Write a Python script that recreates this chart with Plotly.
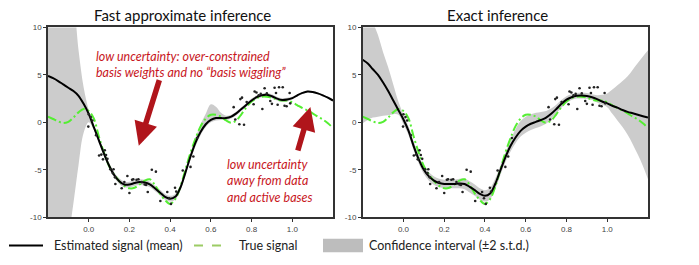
import plotly.graph_objects as go

# ---------------- data ----------------
x_grid = [-0.2, -0.175, -0.15, -0.125, -0.1, -0.075, -0.05, -0.025, 0.0, 0.025,
          0.05, 0.075, 0.1, 0.125, 0.15, 0.175, 0.2, 0.225, 0.25, 0.275,
          0.3, 0.325, 0.35, 0.375, 0.4, 0.425, 0.45, 0.475, 0.5, 0.525,
          0.55, 0.575, 0.6, 0.625, 0.65, 0.675, 0.7, 0.725, 0.75, 0.775,
          0.8, 0.825, 0.85, 0.875, 0.9, 0.925, 0.95, 0.975, 1.0, 1.025,
          1.05, 1.075, 1.1, 1.125, 1.15, 1.175, 1.2]

true_signal = [0.6, 0.35, 0.1, -0.08, 0.05, 0.5, 1.05, 1.4, 1.2, 0.4,
               -1.5, -3.2, -4.6, -5.5, -6.2, -6.7, -6.95, -6.9, -6.55, -6.15,
               -6.0, -6.6, -7.5, -8.2, -8.6, -8.1, -6.8, -5.0, -3.2, -1.7,
               -0.4, 0.4, 0.8, 0.8, 0.6, 0.2, -0.05, 0.2, 0.85, 1.6,
               2.2, 2.55, 2.7, 2.7, 2.6, 2.4, 2.3, 2.3, 2.1, 1.8,
               1.5, 1.25, 0.95, 0.6, 0.3, -0.1, -0.6]

fast_mean = [4.9, 4.65, 4.35, 4.0, 3.65, 3.3, 2.8, 1.95, 0.9, -0.5,
             -1.9, -3.3, -4.55, -5.55, -6.2, -6.55, -6.55, -6.4, -6.3, -6.35,
             -6.55, -6.95, -7.4, -7.85, -8.05, -7.85, -6.9, -5.3, -3.6, -2.1,
             -1.0, -0.2, 0.25, 0.45, 0.45, 0.45, 0.6, 0.95, 1.4, 1.85,
             2.3, 2.65, 2.85, 2.9, 2.75, 2.5, 2.35, 2.4, 2.55, 2.85,
             3.1, 3.25, 3.2, 3.05, 2.85, 2.6, 2.3]

fast_upper = [14, 14, 14, 14, 14, 12.5, 7.6, 3.7, 1.3, -0.2,
              -1.6, -3.0, -4.25, -5.25, -5.9, -6.25, -6.25, -6.1, -6.0, -6.05,
              -6.25, -6.65, -7.1, -7.55, -7.75, -7.55, -6.6, -5.0, -3.25, -1.6,
              -0.2, 0.9, 1.9, 1.65, 1.0, 0.7, 0.8, 1.15, 1.6, 2.05,
              2.5, 2.85, 3.05, 3.1, 2.95, 2.7, 2.55, 2.6, 2.7, 2.95,
              3.2, 3.35, 3.3, 3.15, 2.95, 2.7, 2.4]

fast_lower = [-14, -14, -14, -14, -12, -8.5, -4.5, -1.1, 0.0, -0.8,
              -2.2, -3.6, -4.85, -5.85, -6.5, -6.85, -6.85, -6.7, -6.6, -6.65,
              -6.85, -7.25, -7.7, -8.15, -8.35, -8.15, -7.2, -5.6, -3.95, -2.5,
              -1.35, -0.5, 0.0, 0.2, 0.25, 0.25, 0.4, 0.75, 1.2, 1.65,
              2.1, 2.45, 2.65, 2.7, 2.55, 2.3, 2.15, 2.2, 2.4, 2.75,
              3.0, 3.15, 3.1, 2.95, 2.75, 2.5, 2.2]

exact_mean = [6.6, 6.2, 5.6, 5.0, 4.2, 3.3, 2.3, 1.3, 0.3, -0.9,
              -2.5, -3.9, -5.0, -5.7, -6.15, -6.4, -6.5, -6.5, -6.5, -6.45,
              -6.5, -6.8, -7.15, -7.55, -7.75, -7.5, -6.5, -5.1, -3.7, -2.5,
              -1.6, -0.9, -0.45, -0.15, 0.05, 0.25, 0.5, 0.9, 1.4, 1.95,
              2.4, 2.65, 2.8, 2.82, 2.78, 2.65, 2.45, 2.2, 2.0, 1.75,
              1.55, 1.3, 1.1, 0.95, 0.8, 0.65, 0.5]

exact_upper = [14, 12.5, 10.6, 9.2, 7.4, 5.8, 4.0, 2.2, 0.8, -0.45,
               -2.05, -3.45, -4.55, -5.25, -5.7, -5.95, -6.05, -6.05, -6.05, -5.95,
               -5.95, -6.2, -6.55, -6.95, -7.15, -6.9, -5.95, -4.6, -3.2, -1.9,
               -0.7, 0.15, 0.6, 0.85, 1.0, 1.1, 1.2, 1.45, 1.85, 2.35,
               2.75, 2.95, 3.1, 3.12, 3.08, 2.95, 2.85, 2.9, 3.05, 3.45,
               3.9, 4.35, 4.85, 5.55, 6.25, 6.95, 7.6]

exact_lower = [-0.1, 0.25, 0.5, 0.6, 0.7, 0.75, 0.85, 0.8, -0.2, -1.35,
               -2.95, -4.35, -5.45, -6.15, -6.6, -6.85, -6.95, -6.95, -6.95, -6.95,
               -7.05, -7.4, -7.75, -8.15, -8.35, -8.1, -7.05, -5.6, -4.2, -3.1,
               -2.2, -1.5, -1.1, -0.8, -0.6, -0.4, -0.15, 0.35, 0.95, 1.55,
               2.05, 2.35, 2.5, 2.52, 2.48, 2.35, 2.1, 1.85, 1.6, 0.9,
               0.2, -0.5, -1.3, -2.3, -3.4, -4.6, -6.0]

obs_x = [0.0, 0.01, 0.018, -0.002, 0.036, 0.051, 0.062, 0.07, 0.079, 0.085,
         0.092, 0.106, 0.118, 0.122, 0.129, 0.131, 0.162, 0.175, 0.19, 0.2,
         0.213, 0.219, 0.235, 0.244, 0.26, 0.275, 0.282, 0.29, 0.31, 0.33,
         0.352, 0.386, 0.395, 0.404, 0.424, 0.43, 0.462, 0.5, 0.514, 0.532,
         0.712, 0.72, 0.74, 0.763, 0.745, 0.753, 0.776, 0.81, 0.815, 0.824,
         0.835, 0.845, 0.853, 0.864, 0.875, 0.892, 0.9, 0.913, 0.92, 0.928,
         0.935, 0.953, 0.962, 0.972, 0.987, 0.99]
obs_y = [0.85, 0.55, 0.2, -0.45, -1.35, -3.5, -3.4, -3.9, -2.95, -3.45,
         -3.85, -4.95, -5.35, -4.95, -5.8, -6.5, -6.95, -6.3, -5.65, -7.45,
         -6.05, -6.0, -6.05, -6.0, -6.3, -6.55, -6.6, -7.35, -5.0, -5.2,
         -8.3, -7.35, -8.0, -8.6, -6.9, -7.3, -5.07, -4.7, -3.6, -1.65,
         1.6, 0.3, -0.2, -0.25, 2.45, 2.6, 2.15, 1.9, 3.25, 3.15,
         2.85, 3.0, 1.4, 3.6, 3.05, 2.25, 1.95, 3.65, 3.1, 1.85,
         3.7, 3.7, 1.75, 1.7, 3.1, 2.0]

panel_titles = ["Fast approximate inference", "Exact inference"]
x_tick_vals = [0.0, 0.2, 0.4, 0.6, 0.8, 1.0]
x_tick_text = ["0.0", "0.2", "0.4", "0.6", "0.8", "1.0"]
y_tick_vals = [-10, -5, 0, 5, 10]
y_tick_text = ["-10", "-5", "0", "5", "10"]
legend_labels = ["Estimated signal (mean)", "True signal", "Confidence interval (\u00b12 s.t.d.)"]
note_left = "low uncertainty: over-constrained<br>basis weights and no \u201cbasis wiggling\u201d"
note_right = "low uncertainty<br>away from data<br>and active bases"

# ---------------- styles ----------------
BAND = "#cccccc"
GREEN = "#55ee33"
RED = "#c8161d"
ARROW = "#b0151b"
W, H = 699, 265

fig = go.Figure()

panels = [
    ("x", "y", fast_mean, fast_upper, fast_lower),
    ("x2", "y2", exact_mean, exact_upper, exact_lower),
]
for xa, ya, mean, up, lo in panels:
    fig.add_trace(go.Scatter(x=x_grid, y=lo, xaxis=xa, yaxis=ya, mode="lines",
                             line=dict(width=0, color=BAND, shape="spline"),
                             showlegend=False, hoverinfo="skip"))
    fig.add_trace(go.Scatter(x=x_grid, y=up, xaxis=xa, yaxis=ya, mode="lines",
                             line=dict(width=0, color=BAND, shape="spline"),
                             fill="tonexty", fillcolor=BAND,
                             showlegend=False, hoverinfo="skip"))
    fig.add_trace(go.Scatter(x=x_grid, y=true_signal, xaxis=xa, yaxis=ya, mode="lines",
                             line=dict(width=2, color=GREEN, dash="9px,3px,2px,3px", shape="spline"),
                             showlegend=False))
    fig.add_trace(go.Scatter(x=x_grid, y=mean, xaxis=xa, yaxis=ya, mode="lines",
                             line=dict(width=2, color="black", shape="spline"),
                             showlegend=False))
    fig.add_trace(go.Scatter(x=obs_x, y=obs_y, xaxis=xa, yaxis=ya, mode="markers",
                             marker=dict(size=2.6, color="#222222"),
                             showlegend=False))

# plot-area geometry (pixels)
L1, R1 = 48, 333
L2, R2 = 362.7, 648
TOP, BOT = 24.3, 220.7

def px(v):
    return v / W

def py(v):
    return 1 - v / H

axis_common = dict(
    showgrid=False, zeroline=False, showline=True, mirror=True,
    linecolor="#333333", linewidth=1.5, ticks="outside", ticklen=3,
    tickcolor="#333333", tickfont=dict(family="Liberation Sans, Arial", size=8, color="#444444"),
)

fig.update_layout(
    width=W, height=H,
    margin=dict(l=0, r=0, t=0, b=0),
    paper_bgcolor="white", plot_bgcolor="white",
    showlegend=False,
    xaxis=dict(domain=[px(L1), px(R1)], range=[-0.2, 1.2], anchor="y",
               tickvals=x_tick_vals, ticktext=x_tick_text, **axis_common),
    yaxis=dict(domain=[py(BOT), py(TOP)], range=[-10, 10], anchor="x",
               tickvals=y_tick_vals, ticktext=y_tick_text, **axis_common),
    xaxis2=dict(domain=[px(L2), px(R2)], range=[-0.2, 1.2], anchor="y2",
                tickvals=x_tick_vals, ticktext=x_tick_text, **axis_common),
    yaxis2=dict(domain=[py(BOT), py(TOP)], range=[-10, 10], anchor="x2",
                tickvals=y_tick_vals, ticktext=y_tick_text, **axis_common),
)

TITLE_FONT = dict(family="Lato, Open Sans, sans-serif", size=15, color="#111111")
annotations = [
    dict(text=panel_titles[0], x=px(182), y=py(11), xref="paper", yref="paper",
         showarrow=False, font=TITLE_FONT, xanchor="center", yanchor="middle"),
    dict(text=panel_titles[1], x=px(497.5), y=py(11), xref="paper", yref="paper",
         showarrow=False, font=TITLE_FONT, xanchor="center", yanchor="middle"),
    dict(text="<i>" + note_left + "</i>", x=px(94), y=py(44), xref="paper", yref="paper",
         showarrow=False, align="left", xanchor="left", yanchor="top",
         font=dict(family="Lato, sans-serif", size=12.5, color=RED)),
    dict(text="<i>" + note_right + "</i>", x=px(225), y=py(156), xref="paper", yref="paper",
         showarrow=False, align="left", xanchor="left", yanchor="top",
         font=dict(family="Lato, sans-serif", size=12.5, color=RED)),
    # arrows
    dict(text="", x=0.246, y=-2.46, xref="x", yref="y", ax=21, ay=-67,
         showarrow=True, arrowhead=2, arrowsize=0.85, arrowwidth=5.5, arrowcolor=ARROW),
    dict(text="", x=1.089, y=1.61, xref="x", yref="y", ax=-13, ay=45,
         showarrow=True, arrowhead=2, arrowsize=0.85, arrowwidth=5.5, arrowcolor=ARROW),
]

LEG_FONT = dict(family="Lato, sans-serif", size=12.5, color="#222222")
leg_y = 250
annotations += [
    dict(text=legend_labels[0], x=px(52), y=py(leg_y), xref="paper", yref="paper",
         showarrow=False, xanchor="left", yanchor="middle", font=LEG_FONT),
    dict(text=legend_labels[1], x=px(237), y=py(leg_y), xref="paper", yref="paper",
         showarrow=False, xanchor="left", yanchor="middle", font=LEG_FONT),
    dict(text=legend_labels[2], x=px(367), y=py(leg_y), xref="paper", yref="paper",
         showarrow=False, xanchor="left", yanchor="middle", font=LEG_FONT),
]
fig.update_layout(annotations=annotations)

shapes = [
    dict(type="line", xref="paper", yref="paper", x0=px(9), x1=px(43), y0=py(leg_y), y1=py(leg_y),
         line=dict(color="black", width=2)),
    dict(type="line", xref="paper", yref="paper", x0=px(194), x1=px(228), y0=py(leg_y), y1=py(leg_y),
         line=dict(color="#9ccc65", width=2, dash="dash")),
    dict(type="rect", xref="paper", yref="paper", x0=px(323), x1=px(363), y0=py(257), y1=py(243),
         fillcolor="#bdbdbd", line=dict(width=0)),
]
fig.update_layout(shapes=shapes)

fig.write_html("out.html", config={"displayModeBar": False},
               post_script="document.body.style.margin='0';document.body.style.padding='0';")
